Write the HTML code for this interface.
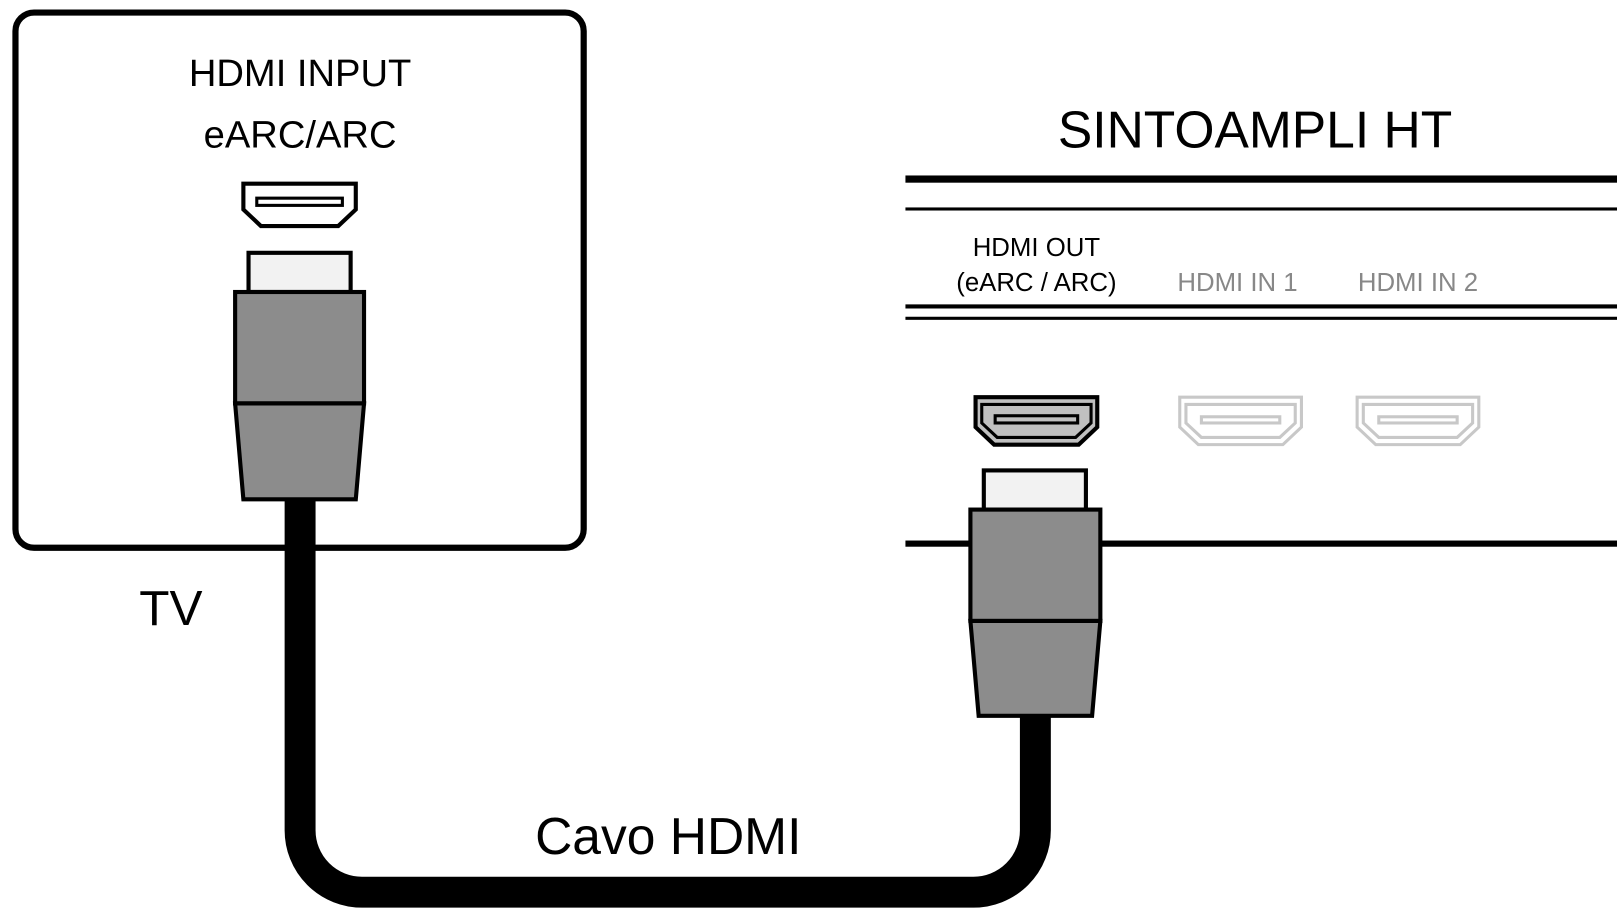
<!DOCTYPE html>
<html><head><style>html,body{margin:0;padding:0;background:#fff}svg{display:block}</style></head>
<body>
<svg width="1617" height="914" viewBox="0 0 1568 886" xmlns="http://www.w3.org/2000/svg" font-family="Liberation Sans, sans-serif">
<rect x="15" y="12" width="551" height="519" rx="18" fill="#fff" stroke="#000" stroke-width="6"/>
<text x="291" y="83" font-size="37" text-anchor="middle">HDMI INPUT</text>
<text x="291" y="143" font-size="37" text-anchor="middle">eARC/ARC</text>
<path d="M236 178 H345 V203 L328 219 H253 L236 203 Z" fill="#fff" stroke="#000" stroke-width="4"/>
<rect x="249" y="192" width="83" height="7" fill="#fff" stroke="#000" stroke-width="3"/>
<text x="135" y="606" font-size="48">TV</text>
<path d="M291 484 V805 A60 60 0 0 0 351 865 H944 A60 60 0 0 0 1004 805 V690" fill="none" stroke="#000" stroke-width="30"/>
<rect x="241" y="245" width="99" height="38" fill="#f2f2f2" stroke="#000" stroke-width="4"/>
<rect x="228" y="283" width="125" height="108" fill="#8c8c8c" stroke="#000" stroke-width="4"/>
<path d="M228 391 H353 L345 484 H236 Z" fill="#8c8c8c" stroke="#000" stroke-width="4"/>
<text x="648" y="828" font-size="50" text-anchor="middle">Cavo HDMI</text>
<text x="1217" y="143" font-size="50" text-anchor="middle">SINTOAMPLI HT</text>
<rect x="878" y="170" width="690" height="7" fill="#000"/>
<rect x="878" y="201" width="690" height="3" fill="#000"/>
<rect x="878" y="295" width="690" height="4" fill="#000"/>
<rect x="878" y="307" width="690" height="3" fill="#000"/>
<rect x="878" y="524" width="690" height="6" fill="#000"/>
<text x="1005" y="248" font-size="25" text-anchor="middle">HDMI OUT</text>
<text x="1005" y="282" font-size="25" text-anchor="middle">(eARC / ARC)</text>
<text x="1200" y="282" font-size="25" text-anchor="middle" fill="#888">HDMI IN 1</text>
<text x="1375" y="282" font-size="25" text-anchor="middle" fill="#888">HDMI IN 2</text>
<path d="M946 385 H1064 V414 L1046 431 H964 L946 414 Z" fill="#c0c0c0" stroke="#000" stroke-width="4"/>
<path d="M952 392 H1058 V410 L1043 424 H967 L952 410 Z" fill="#c0c0c0" stroke="#000" stroke-width="3"/>
<rect x="965" y="403" width="80" height="7" fill="#c0c0c0" stroke="#000" stroke-width="3"/>
<g fill="none" stroke="#c8c8c8" stroke-width="3">
<path d="M1144 385 H1262 V414 L1244 431 H1162 L1144 414 Z"/><path d="M1150 392 H1256 V410 L1241 424 H1165 L1150 410 Z"/><rect x="1165" y="404" width="76" height="6"/>
<path d="M1316 385 H1434 V414 L1416 431 H1334 L1316 414 Z"/><path d="M1322 392 H1428 V410 L1413 424 H1337 L1322 410 Z"/><rect x="1337" y="404" width="76" height="6"/>
</g>
<rect x="954" y="456" width="99" height="38" fill="#f2f2f2" stroke="#000" stroke-width="4"/>
<rect x="941" y="494" width="126" height="108" fill="#8c8c8c" stroke="#000" stroke-width="4"/>
<path d="M941 602 H1067 L1059 694 H949 Z" fill="#8c8c8c" stroke="#000" stroke-width="4"/>
</svg>
</body></html>
